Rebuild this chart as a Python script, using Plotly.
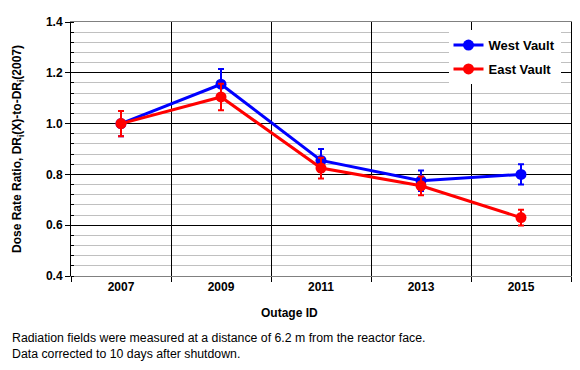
import plotly.graph_objects as go

outages = ["2007", "2009", "2011", "2013", "2015"]
west = [1.0, 1.155, 0.855, 0.775, 0.80]
west_err = [0.05, 0.06, 0.045, 0.04, 0.04]
east = [1.0, 1.105, 0.825, 0.755, 0.63]
east_err = [0.05, 0.052, 0.041, 0.037, 0.031]

FONT = "Liberation Sans, Arial, sans-serif"

fig = go.Figure()
fig.add_trace(go.Scatter(
    x=outages, y=west, name="West Vault", mode="lines+markers", legendgroup="w",
    line=dict(color="#0000ff", width=3), marker=dict(size=11, color="#0000ff"),
    error_y=dict(type="data", array=west_err, color="#0000ff", thickness=2, width=3),
))
fig.add_trace(go.Scatter(
    x=outages, y=east, name="East Vault", mode="lines+markers", legendgroup="e",
    line=dict(color="#ff0000", width=3), marker=dict(size=11, color="#ff0000"),
    error_y=dict(type="data", array=east_err, color="#ff0000", thickness=2, width=3),
))

fig.update_layout(
    width=572, height=362,
    margin=dict(l=63, r=9, t=14, b=94, autoexpand=False),
    paper_bgcolor="white", plot_bgcolor="white",
    font=dict(family=FONT, size=12, color="black"),
    showlegend=True,
    legend=dict(x=0.755, y=0.968, xanchor="left", yanchor="top",
                bgcolor="white", borderwidth=0,
                font=dict(family=FONT, size=13, weight="bold"),
                tracegroupgap=4, itemwidth=30),
)
fig.update_xaxes(
    type="category", tickson="boundaries", range=[-0.5, 4.5], automargin=False,
    showgrid=True, gridcolor="black", gridwidth=1,
    ticks="outside", ticklen=5, tickcolor="black",
    showline=True, linecolor="#808080", linewidth=1, mirror=True,
    tickfont=dict(family=FONT, size=12, weight="bold"),
    title=None,
)
fig.update_yaxes(
    range=[0.4, 1.4], dtick=0.2, tickformat=".1f", automargin=False,
    showgrid=True, gridcolor="black", gridwidth=1,
    minor=dict(dtick=0.04, showgrid=True, gridcolor="#c0c0c0", gridwidth=1,
               ticks="inside", ticklen=3, tickcolor="black"),
    ticks="outside", ticklen=5, tickcolor="black",
    showline=True, linecolor="black", linewidth=1, mirror=True,
    zeroline=False,
    tickfont=dict(family=FONT, size=12, weight="bold"),
    title=dict(text="Dose Rate Ratio, DR<sub>i</sub>(X)-to-DR<sub>i</sub>(2007)",
               font=dict(family=FONT, size=12, weight="bold"), standoff=21),
)

fig.add_annotation(text="Outage ID", xref="paper", yref="paper",
                   x=0.436, y=-0.146, xanchor="center", yanchor="middle",
                   showarrow=False, font=dict(family=FONT, size=12, weight="bold"))
fig.add_annotation(text="Radiation fields were measured at a distance of 6.2 m from the reactor face.<br>Data corrected to 10 days after shutdown.",
                   xref="paper", yref="paper", x=-0.122, y=-0.21,
                   xanchor="left", yanchor="top", align="left",
                   showarrow=False, font=dict(family=FONT, size=12.3))

fig.write_html("out.html")
